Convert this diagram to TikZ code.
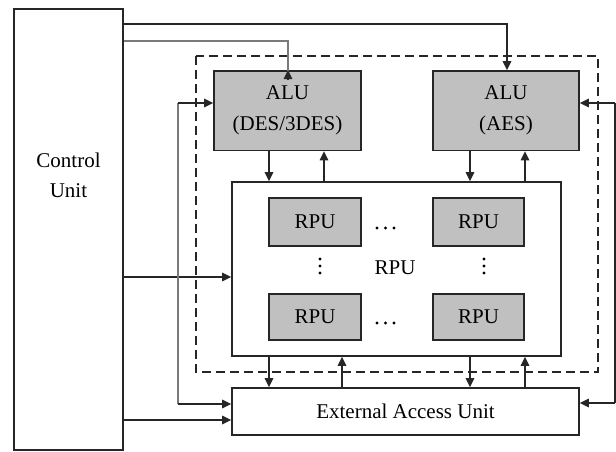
\documentclass[tikz,border=0pt]{standalone}
\usepackage{fontspec}
\setmainfont{Liberation Serif}
\usetikzlibrary{arrows.meta}
\definecolor{boxgray}{HTML}{C0C0C0}
\definecolor{wiregray}{HTML}{7A7A7A}
\tikzset{
  box/.style={draw=black!85, line width=1.7pt, inner sep=0pt, align=center, font=\fontsize{21}{31}\selectfont},
  grayb/.style={box, fill=boxgray},
  wire/.style={draw=black!85, line width=1.6pt},
  gwire/.style={draw=wiregray, line width=2.2pt},
  arr/.style={wire, -{Triangle[length=9pt,width=8.5pt]}},
  lbl/.style={font=\fontsize{21}{31}\selectfont, inner sep=0pt},
  vdot/.style={fill=black, draw=none},
}
\begin{document}
\begin{tikzpicture}[x=1pt,y=-1pt]
\useasboundingbox (0,0) rectangle (616,451);
% dashed region
\draw[draw=black!85, line width=1.5pt, dash pattern=on 9pt off 5pt] (196,56) rectangle (598,372);
% nodes
\node[box, minimum width=109pt, minimum height=441pt] (cu) at (68.5,229.5) {};
\node[lbl, align=center] (cut) at (68.5,175) {Control\\[-1pt]Unit};
\node[grayb, minimum width=147pt, minimum height=79.5pt] (alud) at (287.5,110.75) {ALU\\(DES/3DES)};
\node[grayb, minimum width=146pt, minimum height=79.5pt] (alua) at (506,110.75) {ALU\\(AES)};
\node[box, fill=white, minimum width=329pt, minimum height=174pt] (rpub) at (396.5,269) {};
\node[grayb, minimum width=92pt, minimum height=48pt] (r11) at (315,222) {RPU};
\node[grayb, minimum width=91pt, minimum height=48pt] (r12) at (478.5,222) {RPU};
\node[grayb, minimum width=92pt, minimum height=46pt] (r21) at (315,317) {RPU};
\node[grayb, minimum width=91pt, minimum height=46pt] (r22) at (478.5,317) {RPU};
\node[lbl] (rpul) at (395,268) {RPU};
\foreach \x in {377,385.5,394}{
  \fill[vdot] (\x,228) circle (1.6pt);
  \fill[vdot] (\x,323) circle (1.6pt);
}
\foreach \x in {320,484}{
  \fill[vdot] (\x,259) circle (1.6pt);
  \fill[vdot] (\x,266) circle (1.6pt);
  \fill[vdot] (\x,273) circle (1.6pt);
}
\node[box, minimum width=347pt, minimum height=47pt] (eau) at (405.5,411.5) {External Access Unit};
% coordinates for wires
\coordinate (t1) at (507,24);
\coordinate (t2) at (288,40.7);
\coordinate (lf1) at (178,103);
\coordinate (lf2) at (178,404);
\coordinate (rf1) at (615,103);
\coordinate (rf2) at (615,403);
% control wires
\draw[arr] (cu.east |- t1) -- (t1) -- (alua.north -| t1);
\draw[gwire] (cu.east |- t2) -- (t2) -- ([yshift=-9pt]alud.north -| t2);
\draw[arr] ([yshift=-10pt]alud.north -| t2) -- (alud.north -| t2);
\draw[arr] (cu.east |- 0,277) -- (rpub.west |- 0,277);
\draw[arr] (cu.east |- 0,420) -- (eau.west |- 0,420);
% left feedback loop
\draw[gwire] (lf1) -- (lf2);
\draw[arr] (lf1) -- (alud.west |- lf1);
\draw[arr] (lf2) -- (eau.west |- lf2);
% right feedback loop
\draw[wire] (rf1) -- (rf2);
\draw[arr] (rf1) -- (alua.east |- rf1);
\draw[arr] (rf2) -- (eau.east |- rf2);
% ALU <-> RPU box
\draw[arr] (alud.south -| 269,0) -- (rpub.north -| 269,0);
\draw[arr] (rpub.north -| 324,0) -- (alud.south -| 324,0);
\draw[arr] (alua.south -| 470,0) -- (rpub.north -| 470,0);
\draw[arr] (rpub.north -| 525,0) -- (alua.south -| 525,0);
% RPU box <-> EAU
\draw[arr] (rpub.south -| 269,0) -- (eau.north -| 269,0);
\draw[arr] (eau.north -| 342,0) -- (rpub.south -| 342,0);
\draw[arr] (rpub.south -| 470,0) -- (eau.north -| 470,0);
\draw[arr] (eau.north -| 525,0) -- (rpub.south -| 525,0);
\end{tikzpicture}
\end{document}
